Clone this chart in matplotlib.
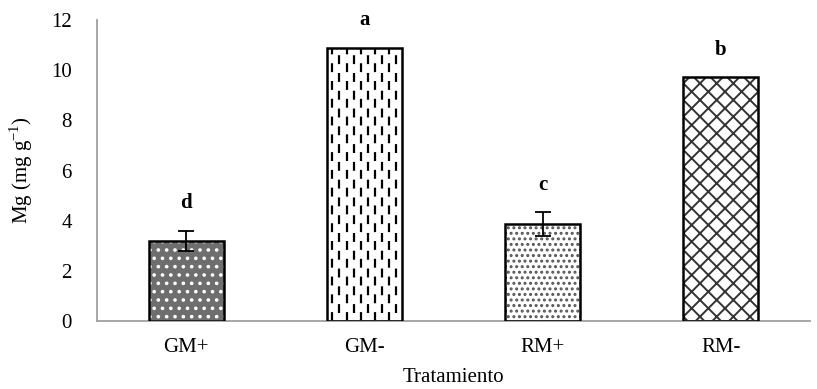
import matplotlib.pyplot as plt
import numpy as np

plt.rcParams['font.family'] = ['Liberation Serif', 'DejaVu Serif']
plt.rcParams['mathtext.fontset'] = 'custom'
plt.rcParams['mathtext.rm'] = 'Liberation Serif'
plt.rcParams['axes.unicode_minus'] = False
plt.rcParams['hatch.linewidth'] = 1.4

tratamientos = ['GM+', 'GM-', 'RM+', 'RM-']
mg = [3.2, 10.9, 3.85, 9.72]
err = [0.4, 0.0, 0.48, 0.0]
letras = ['d', 'a', 'c', 'b']

# relleno de cada barra: (color de fondo, color de trama, trama)
fondos = ['#6e6e6e', 'white', 'white', 'white']
tramas_color = ['white', 'black', '#555555', '#333333']
tramas = ['..', '', '...', 'xx']

fs = 15

fig = plt.figure(figsize=(8.17, 3.89), dpi=100)
ax = fig.add_axes([97 / 817, 1 - 321 / 389, 713 / 817, 301 / 389])

x = np.arange(len(tratamientos))
w = 0.42

for i in range(len(x)):
    ax.bar(x[i], mg[i], w, color=fondos[i], edgecolor=tramas_color[i],
           hatch=tramas[i], linewidth=0, zorder=2)
    if i == 1:
        # trazos verticales discontinuos
        xs = np.linspace(x[i] - w / 2 + 0.03, x[i] + w / 2 - 0.03, 10)
        for k, xv in enumerate(xs):
            off = 0.0 if k % 2 == 0 else 0.3
            ax.plot([xv, xv], [off, mg[i]], color='black', lw=1.6,
                    dashes=(4, 4), zorder=2.5)
    ax.bar(x[i], mg[i], w, fill=False, edgecolor='black', linewidth=1.8, zorder=3)
    if err[i] > 0:
        ax.errorbar(x[i], mg[i], yerr=err[i], fmt='none', ecolor='black',
                    elinewidth=1.3, capsize=6, capthick=1.3, zorder=4)
    ax.text(x[i], mg[i] + err[i] + 0.9, letras[i], ha='center', va='baseline',
            fontsize=fs, fontweight='bold')

ax.set_xlim(-0.5, 3.5)
ax.set_ylim(0, 12)
ax.set_yticks(range(0, 13, 2))
ax.set_xticks(x)
ax.set_xticklabels(tratamientos)
ax.tick_params(length=0, labelsize=fs, pad=12)
ax.tick_params(axis='y', pad=18)

for s in ['top', 'right']:
    ax.spines[s].set_visible(False)
for s in ['left', 'bottom']:
    ax.spines[s].set_color('#a0a0a0')
    ax.spines[s].set_linewidth(1.3)

ax.set_xlabel('Tratamiento', fontsize=fs, labelpad=8)
ax.set_ylabel(r'Mg (mg g$^{\mathregular{-1}}$)', fontsize=fs, labelpad=12)

fig.savefig('out.png', dpi=100)
